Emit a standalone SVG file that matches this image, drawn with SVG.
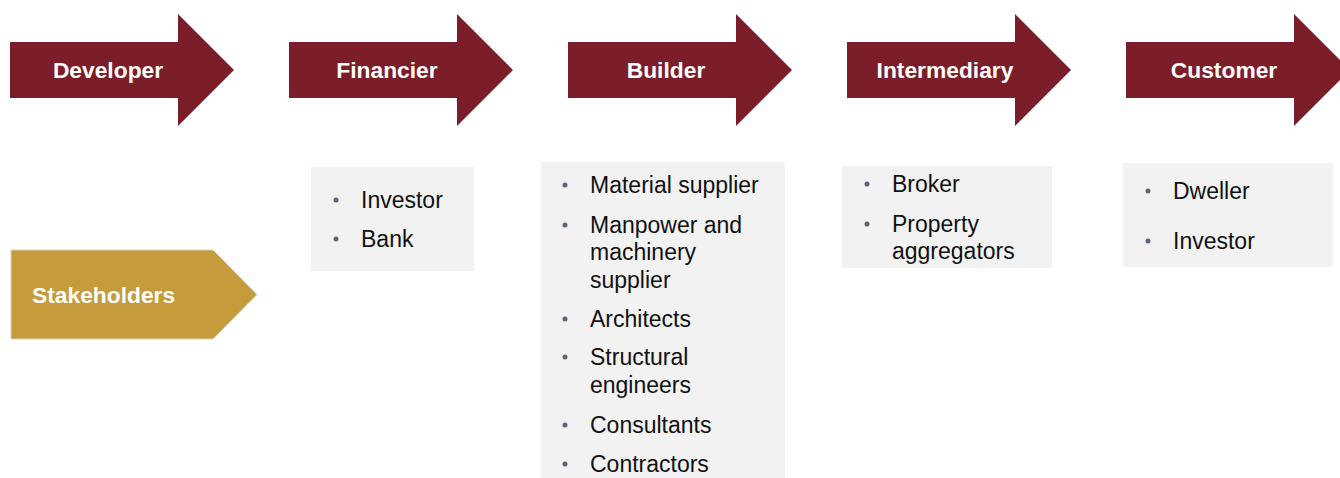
<svg xmlns="http://www.w3.org/2000/svg" width="1340" height="478" viewBox="0 0 1340 478">
<style>
.arrow{fill:#7B1E2A}
.hd{font-family:"Liberation Sans",Arial,sans-serif;font-weight:bold;font-size:22.8px;fill:#ffffff;text-anchor:middle}
.box{fill:#F2F2F2}
.it{font-family:"Liberation Sans",Arial,sans-serif;font-size:23px;fill:#111111}
.dot{fill:#5B6577}
</style>
<defs>
<path id="arr" d="M0,42 H168 V14 L224,70 L168,126 V98 H0 Z"/>
</defs>
<g id="developer">
<use href="#arr" class="arrow" x="10"/>
<text class="hd" x="108" y="78">Developer</text>
</g>
<g id="financier">
<use href="#arr" class="arrow" x="289"/>
<text class="hd" x="387" y="78">Financier</text>
</g>
<g id="builder">
<use href="#arr" class="arrow" x="568"/>
<text class="hd" x="666" y="78">Builder</text>
</g>
<g id="intermediary">
<use href="#arr" class="arrow" x="847"/>
<text class="hd" x="945" y="78">Intermediary</text>
</g>
<g id="customer">
<use href="#arr" class="arrow" x="1126"/>
<text class="hd" x="1224" y="78">Customer</text>
</g>
<g id="stakeholders">
<path d="M11,250 H213 L257,294.5 L213,339 H11 Z" fill="#C59B3C" stroke="#D8D2C4" stroke-width="1"/>
<text x="32" y="303" style="font-family:'Liberation Sans',Arial,sans-serif;font-weight:bold;font-size:22.8px;fill:#ffffff">Stakeholders</text>
</g>
<g id="financier-list">
<rect class="box" x="311" y="167" width="163" height="104"/>
<circle class="dot" cx="336" cy="200" r="2.5"/>
<text class="it" x="361" y="208">Investor</text>
<circle class="dot" cx="336" cy="239" r="2.5"/>
<text class="it" x="361" y="247">Bank</text>
</g>
<g id="builder-list">
<rect class="box" x="541" y="162" width="244" height="316"/>
<circle class="dot" cx="565" cy="185" r="2.5"/>
<text class="it" x="590" y="193">Material supplier</text>
<circle class="dot" cx="565" cy="225" r="2.5"/>
<text class="it" x="590" y="233">Manpower and</text>
<text class="it" x="590" y="260">machinery</text>
<text class="it" x="590" y="287.5">supplier</text>
<circle class="dot" cx="565" cy="319" r="2.5"/>
<text class="it" x="590" y="327">Architects</text>
<circle class="dot" cx="565" cy="357" r="2.5"/>
<text class="it" x="590" y="365">Structural</text>
<text class="it" x="590" y="393">engineers</text>
<circle class="dot" cx="565" cy="425" r="2.5"/>
<text class="it" x="590" y="433">Consultants</text>
<circle class="dot" cx="565" cy="464" r="2.5"/>
<text class="it" x="590" y="472">Contractors</text>
</g>
<g id="intermediary-list">
<rect class="box" x="842" y="166" width="210" height="102"/>
<circle class="dot" cx="867" cy="184" r="2.5"/>
<text class="it" x="892" y="192">Broker</text>
<circle class="dot" cx="867" cy="224" r="2.5"/>
<text class="it" x="892" y="232">Property</text>
<text class="it" x="892" y="259">aggregators</text>
</g>
<g id="customer-list">
<rect class="box" x="1123" y="163" width="210" height="104"/>
<circle class="dot" cx="1148" cy="191" r="2.5"/>
<text class="it" x="1173" y="199">Dweller</text>
<circle class="dot" cx="1148" cy="241" r="2.5"/>
<text class="it" x="1173" y="249">Investor</text>
</g>
<g id="connectors"></g>
</svg>
